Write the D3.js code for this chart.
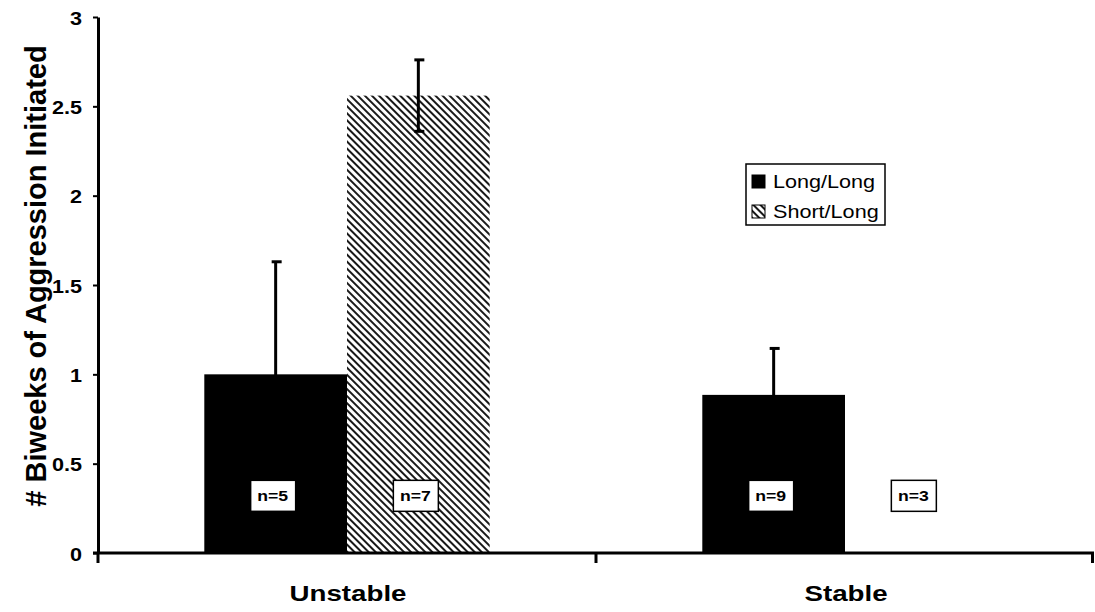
<!DOCTYPE html>
<html>
<head>
<meta charset="utf-8">
<script src="https://cdn.jsdelivr.net/npm/d3@7"></script>
<style>
    body { margin: 0; background: #fff; }
    svg { display: block; font-family: "Liberation Sans", Arial, sans-serif; }
</style>
</head>
<body>
<div id="chart"></div>
<script>
// data
const groups = ["Unstable", "Stable"];
const genotypes = ["Long/Long", "Short/Long"];
const means = [[1.0, 2.56], [0.885, 0]];
const errors = [[0.63, 0.2], [0.26, 0]];
const counts = [["n=5", "n=7"], ["n=9", "n=3"]];
const yTicks = [0, 0.5, 1, 1.5, 2, 2.5, 3];

const W = 1095, H = 612;
const margin = { top: 17, right: 1, bottom: 59, left: 98 };
const stretch = 1.26; // the original font renders wide

const svg = d3.select("#chart").append("svg")
    .attr("width", W)
    .attr("height", H)
    .attr("viewBox", `0 0 ${W} ${H}`);

// hatch for Short/Long
const defs = svg.append("defs");
const hatch = defs.append("pattern")
    .attr("id", "hatch")
    .attr("patternUnits", "userSpaceOnUse")
    .attr("width", 5)
    .attr("height", 5)
    .attr("patternTransform", "rotate(-45)");
hatch.append("rect").attr("width", 5).attr("height", 5).attr("fill", "#fff");
hatch.append("line")
    .attr("x1", 1).attr("y1", 0).attr("x2", 1).attr("y2", 5)
    .attr("stroke", "#000").attr("stroke-width", 1.8);

const fills = ["#000", "url(#hatch)"];

const x0 = d3.scaleBand()
    .domain(groups)
    .range([margin.left, W - margin.right]);

const x1 = d3.scaleBand()
    .domain(genotypes)
    .range([0, x0.bandwidth()])
    .paddingOuter(0.745);

const y = d3.scaleLinear()
    .domain([0, 3])
    .range([H - margin.bottom, margin.top]);

// bars
const groupG = svg.append("g").selectAll("g")
    .data(groups)
    .join("g")
    .attr("transform", d => `translate(${x0(d)},0)`);

groupG.selectAll("rect")
    .data((g, gi) => genotypes.map((k, ki) => ({ k, ki, v: means[gi][ki] })))
    .join("rect")
    .attr("x", d => x1(d.k))
    .attr("y", d => y(d.v))
    .attr("width", x1.bandwidth())
    .attr("height", d => y(0) - y(d.v))
    .attr("fill", d => fills[d.ki]);

// error bars
const errG = groupG.selectAll("g.err")
    .data((g, gi) => genotypes.map((k, ki) => ({ k, v: means[gi][ki], e: errors[gi][ki] }))
        .filter(d => d.e > 0))
    .join("g")
    .attr("class", "err")
    .attr("transform", d => `translate(${x1(d.k) + x1.bandwidth() / 2},0)`);

errG.append("line")
    .attr("y1", d => y(d.v - d.e))
    .attr("y2", d => y(d.v + d.e))
    .attr("stroke", "#000")
    .attr("stroke-width", 3);
errG.selectAll("line.cap")
    .data(d => [d.v + d.e, d.v - d.e])
    .join("line")
    .attr("class", "cap")
    .attr("x1", -4).attr("x2", 6)
    .attr("y1", d => y(d))
    .attr("y2", d => y(d))
    .attr("stroke", "#000")
    .attr("stroke-width", 3);

// n= boxes
const nG = groupG.selectAll("g.n")
    .data((g, gi) => genotypes.map((k, ki) => ({ k, t: counts[gi][ki] })))
    .join("g")
    .attr("class", "n")
    .attr("transform", d => `translate(${x1(d.k) + x1.bandwidth() / 2 - 3},${y(0.32)})`);

nG.append("rect")
    .attr("x", -22).attr("y", -15.5)
    .attr("width", 45).attr("height", 31)
    .attr("fill", "#fff")
    .attr("stroke", "#000")
    .attr("stroke-width", 1.5);
nG.append("text")
    .attr("text-anchor", "middle")
    .attr("dy", "0.36em")
    .attr("transform", `scale(${stretch},1)`)
    .attr("font-size", 14)
    .attr("font-weight", "bold")
    .text(d => d.t);

// y axis
const yAxis = svg.append("g")
    .attr("transform", `translate(${margin.left},0)`)
    .call(d3.axisLeft(y)
        .tickValues(yTicks)
        .tickFormat(d => String(d))
        .tickSize(5)
        .tickSizeOuter(0));
yAxis.select(".domain").attr("stroke-width", 3);
yAxis.selectAll(".tick line").attr("stroke-width", 2);
yAxis.selectAll(".tick text")
    .attr("x", 0)
    .attr("dy", "0.4em")
    .attr("transform", "translate(-16,0) scale(1.2,1)")
    .attr("font-size", 18)
    .attr("font-weight", "bold")
    .attr("font-family", "Liberation Sans, Arial, sans-serif");

// x axis: ticks at band edges
const xAxisG = svg.append("g");
xAxisG.append("line")
    .attr("x1", margin.left - 5)
    .attr("x2", x0.range()[1])
    .attr("y1", y(0)).attr("y2", y(0))
    .attr("stroke", "#000")
    .attr("stroke-width", 3);
const edges = groups.map(g => x0(g)).concat([x0.range()[1] - 1.5]);
xAxisG.selectAll("line.tk")
    .data(edges)
    .join("line")
    .attr("class", "tk")
    .attr("x1", d => d).attr("x2", d => d)
    .attr("y1", y(0)).attr("y2", y(0) + 10)
    .attr("stroke", "#000")
    .attr("stroke-width", 3);
xAxisG.selectAll("text")
    .data(groups)
    .join("text")
    .attr("transform", d => `translate(${x0(d) + x0.bandwidth() / 2 + 1},601) scale(${stretch},1)`)
    .attr("text-anchor", "middle")
    .attr("font-size", 22)
    .attr("font-weight", "bold")
    .text(d => d);

// y title
svg.append("text")
    .attr("transform", `translate(46,276) rotate(-90)`)
    .attr("text-anchor", "middle")
    .attr("font-size", 29)
    .attr("font-weight", "bold")
    .text("# Biweeks of Aggression Initiated");

// legend
const legend = svg.append("g").attr("transform", "translate(746,164)");
legend.append("rect")
    .attr("width", 139).attr("height", 61)
    .attr("fill", "#fff")
    .attr("stroke", "#000")
    .attr("stroke-width", 1.5);
const li = legend.selectAll("g")
    .data(genotypes)
    .join("g")
    .attr("transform", (d, i) => `translate(6,${11 + i * 30})`);
li.append("rect")
    .attr("width", 13).attr("height", 13)
    .attr("fill", (d, i) => fills[i])
    .attr("stroke", "#000")
    .attr("stroke-width", 1);
li.append("text")
    .attr("transform", "translate(21,7) scale(1.2,1)")
    .attr("dy", "0.36em")
    .attr("font-size", 18)
    .text(d => d);
</script>
</body>
</html>
